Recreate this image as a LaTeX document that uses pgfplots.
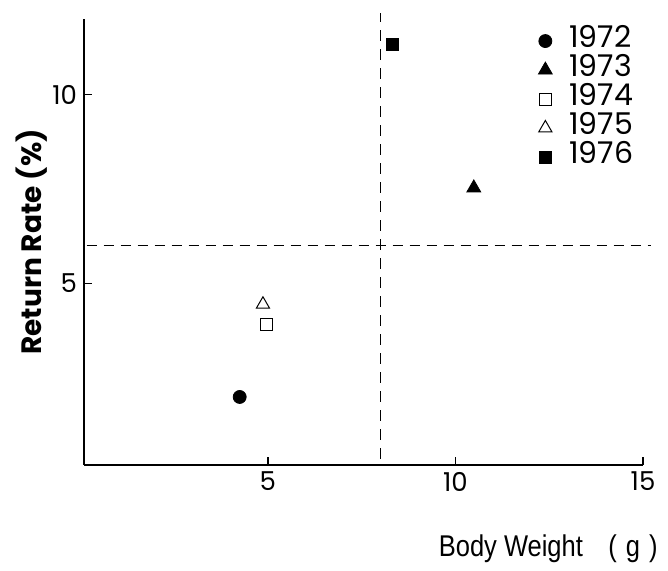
\documentclass[border=0pt]{standalone}
\usepackage{pgfplots}
\pgfplotsset{compat=1.18}
\usepackage{fontspec}
\setmainfont{Poppins}
\newfontfamily\labfont[FakeStretch=0.85]{Liberation Sans}
\begin{document}
\begin{tikzpicture}
\path[use as bounding box] (0,0) rectangle (334pt,285.5pt);
\begin{axis}[
  at={(42pt,53pt)}, anchor=south west,
  scale only axis, width=279.5pt, height=223pt,
  xmin=0.1, xmax=15, ymin=0.2, ymax=12,
  axis lines*=left,
  axis line style={line width=1pt},
  xtick={5,10,15}, ytick={5,10},
  tick style={black, line width=0.8pt},
  major tick length=4pt,
  tick align=inside,
  ticklabel style={font=\fontsize{13}{15}\selectfont},
  /pgf/number format/assume math mode=true,
  ylabel={Return Rate (\%)},
  ylabel style={font=\fontsize{14}{16}\selectfont\bfseries, at={(axis description cs:-0.093,0.5)}, anchor=center},
  xlabel={Body Weight\hspace{0.85em}(\hspace{0.3em}g\hspace{0.3em})},
  xlabel style={at={(axis description cs:1,0)}, anchor=base east, xshift=7.5pt, yshift=-46pt, inner sep=0pt, font=\labfont\fontsize{15}{17}\selectfont},
  clip=false,
  legend style={draw=none, fill=none, at={(axis cs:12.2,11.81)}, anchor=north west, font=\fontsize{15}{17}\selectfont, row sep=0pt, inner sep=0pt, nodes={inner sep=0pt, text height=10.5pt, text depth=4pt}},
  legend cell align=left,
  legend image code/.code={\path[draw=none,fill=none] (-3.5pt,0pt) -- (12pt,0pt); \draw[#1] plot coordinates {(0pt,0pt)};},
]
\addplot[forget plot, dash pattern=on 5.5pt off 4pt, line width=0.6pt] coordinates {(8,0.37) (8,12.16)};
\addplot[forget plot, dash pattern=on 5pt off 3.5pt, line width=0.6pt] coordinates {(0.17,6) (15.2,6)};
\addplot[only marks, mark=*, mark size=3.25pt, black, fill=black] coordinates {(4.25,2.0)};
\addlegendentry{1972}
\addplot[only marks, mark=triangle*, mark size=4pt, black, fill=black] coordinates {(10.49,7.53)};
\addlegendentry{1973}
\addplot[only marks, mark=square, mark size=3pt, black, line width=0.5pt] coordinates {(4.97,3.92)};
\addlegendentry{1974}
\addplot[only marks, mark=triangle, mark size=3.8pt, black, line width=0.5pt] coordinates {(4.87,4.45)};
\addlegendentry{1975}
\addplot[only marks, mark=square*, mark size=3pt, black, fill=black] coordinates {(8.33,11.34)};
\addlegendentry{1976}
\end{axis}
\end{tikzpicture}
\end{document}
